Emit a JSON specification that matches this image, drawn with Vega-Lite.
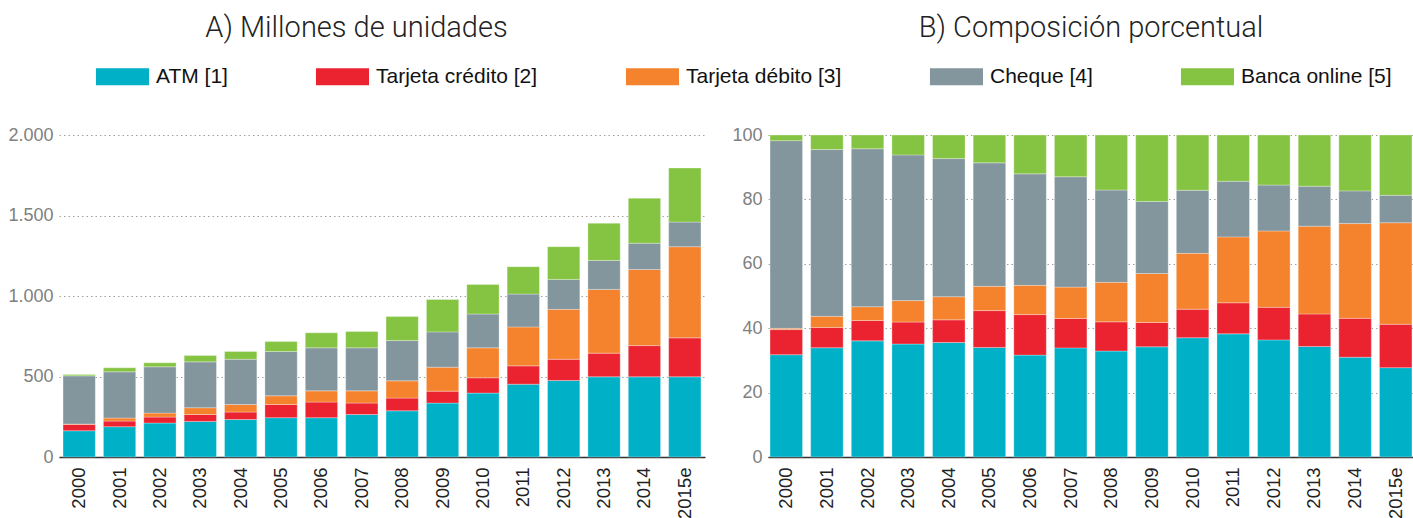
{
  "$schema": "https://vega.github.io/schema/vega-lite/v6.json",
  "padding": {"left": 7, "top": 14, "right": 0, "bottom": 0},
  "config": {
    "view": {"stroke": null},
    "font": "Liberation Sans",
    "axisY": {"grid": true, "gridDash": [1.5, 3], "gridColor": "#a0a0a0", "gridWidth": 1, "domain": false, "ticks": false, "labelColor": "#808080", "labelFontSize": 18, "labelPadding": 6, "title": null},
    "axisX": {"labelAngle": -90, "labelColor": "#222222", "labelFontSize": 18.5, "ticks": false, "domainColor": "#333333", "domainWidth": 1.5, "labelPadding": 10, "title": null, "grid": false},
    "title": {"font": "Roboto", "fontWeight": 300, "fontSize": 29, "color": "#222222", "anchor": "middle"},
    "legend": {"labelFont": "Liberation Sans", "labelFontSize": 21, "labelColor": "#111111"}
  },
  "data": {"values": [
    {"year":"2000","cat":"ATM [1]","k":1,"value":163},{"year":"2000","cat":"Tarjeta crédito [2]","k":2,"value":40},{"year":"2000","cat":"Tarjeta débito [3]","k":3,"value":2},{"year":"2000","cat":"Cheque [4]","k":4,"value":299},{"year":"2000","cat":"Banca online [5]","k":5,"value":9},
    {"year":"2001","cat":"ATM [1]","k":1,"value":188},{"year":"2001","cat":"Tarjeta crédito [2]","k":2,"value":35},{"year":"2001","cat":"Tarjeta débito [3]","k":3,"value":19},{"year":"2001","cat":"Cheque [4]","k":4,"value":287},{"year":"2001","cat":"Banca online [5]","k":5,"value":25},
    {"year":"2002","cat":"ATM [1]","k":1,"value":211},{"year":"2002","cat":"Tarjeta crédito [2]","k":2,"value":37},{"year":"2002","cat":"Tarjeta débito [3]","k":3,"value":25},{"year":"2002","cat":"Cheque [4]","k":4,"value":287},{"year":"2002","cat":"Banca online [5]","k":5,"value":25},
    {"year":"2003","cat":"ATM [1]","k":1,"value":221},{"year":"2003","cat":"Tarjeta crédito [2]","k":2,"value":43},{"year":"2003","cat":"Tarjeta débito [3]","k":3,"value":42},{"year":"2003","cat":"Cheque [4]","k":4,"value":285},{"year":"2003","cat":"Banca online [5]","k":5,"value":39},
    {"year":"2004","cat":"ATM [1]","k":1,"value":233},{"year":"2004","cat":"Tarjeta crédito [2]","k":2,"value":46},{"year":"2004","cat":"Tarjeta débito [3]","k":3,"value":47},{"year":"2004","cat":"Cheque [4]","k":4,"value":281},{"year":"2004","cat":"Banca online [5]","k":5,"value":48},
    {"year":"2005","cat":"ATM [1]","k":1,"value":244},{"year":"2005","cat":"Tarjeta crédito [2]","k":2,"value":82},{"year":"2005","cat":"Tarjeta débito [3]","k":3,"value":54},{"year":"2005","cat":"Cheque [4]","k":4,"value":275},{"year":"2005","cat":"Banca online [5]","k":5,"value":62},
    {"year":"2006","cat":"ATM [1]","k":1,"value":244},{"year":"2006","cat":"Tarjeta crédito [2]","k":2,"value":97},{"year":"2006","cat":"Tarjeta débito [3]","k":3,"value":70},{"year":"2006","cat":"Cheque [4]","k":4,"value":267},{"year":"2006","cat":"Banca online [5]","k":5,"value":93},
    {"year":"2007","cat":"ATM [1]","k":1,"value":264},{"year":"2007","cat":"Tarjeta crédito [2]","k":2,"value":71},{"year":"2007","cat":"Tarjeta débito [3]","k":3,"value":76},{"year":"2007","cat":"Cheque [4]","k":4,"value":267},{"year":"2007","cat":"Banca online [5]","k":5,"value":101},
    {"year":"2008","cat":"ATM [1]","k":1,"value":287},{"year":"2008","cat":"Tarjeta crédito [2]","k":2,"value":79},{"year":"2008","cat":"Tarjeta débito [3]","k":3,"value":107},{"year":"2008","cat":"Cheque [4]","k":4,"value":250},{"year":"2008","cat":"Banca online [5]","k":5,"value":149},
    {"year":"2009","cat":"ATM [1]","k":1,"value":335},{"year":"2009","cat":"Tarjeta crédito [2]","k":2,"value":74},{"year":"2009","cat":"Tarjeta débito [3]","k":3,"value":149},{"year":"2009","cat":"Cheque [4]","k":4,"value":219},{"year":"2009","cat":"Banca online [5]","k":5,"value":202},
    {"year":"2010","cat":"ATM [1]","k":1,"value":397},{"year":"2010","cat":"Tarjeta crédito [2]","k":2,"value":95},{"year":"2010","cat":"Tarjeta débito [3]","k":3,"value":186},{"year":"2010","cat":"Cheque [4]","k":4,"value":210},{"year":"2010","cat":"Banca online [5]","k":5,"value":184},
    {"year":"2011","cat":"ATM [1]","k":1,"value":452},{"year":"2011","cat":"Tarjeta crédito [2]","k":2,"value":114},{"year":"2011","cat":"Tarjeta débito [3]","k":3,"value":242},{"year":"2011","cat":"Cheque [4]","k":4,"value":204},{"year":"2011","cat":"Banca online [5]","k":5,"value":170},
    {"year":"2012","cat":"ATM [1]","k":1,"value":475},{"year":"2012","cat":"Tarjeta crédito [2]","k":2,"value":132},{"year":"2012","cat":"Tarjeta débito [3]","k":3,"value":310},{"year":"2012","cat":"Cheque [4]","k":4,"value":186},{"year":"2012","cat":"Banca online [5]","k":5,"value":203},
    {"year":"2013","cat":"ATM [1]","k":1,"value":498},{"year":"2013","cat":"Tarjeta crédito [2]","k":2,"value":147},{"year":"2013","cat":"Tarjeta débito [3]","k":3,"value":396},{"year":"2013","cat":"Cheque [4]","k":4,"value":180},{"year":"2013","cat":"Banca online [5]","k":5,"value":231},
    {"year":"2014","cat":"ATM [1]","k":1,"value":498},{"year":"2014","cat":"Tarjeta crédito [2]","k":2,"value":194},{"year":"2014","cat":"Tarjeta débito [3]","k":3,"value":473},{"year":"2014","cat":"Cheque [4]","k":4,"value":163},{"year":"2014","cat":"Banca online [5]","k":5,"value":279},
    {"year":"2015e","cat":"ATM [1]","k":1,"value":498},{"year":"2015e","cat":"Tarjeta crédito [2]","k":2,"value":242},{"year":"2015e","cat":"Tarjeta débito [3]","k":3,"value":566},{"year":"2015e","cat":"Cheque [4]","k":4,"value":153},{"year":"2015e","cat":"Banca online [5]","k":5,"value":336}
  ]},
  "spacing": 26,
  "resolve": {"scale": {"y": "independent", "x": "independent", "color": "shared"}, "legend": {"color": "shared"}},
  "hconcat": [
    {
      "width": 646,
      "height": 322,
      "title": {"text": "A) Millones de unidades", "frame": "bounds", "offset": 83},
      "mark": {"type": "bar", "stroke": "#ffffff", "strokeWidth": 0.6, "strokeOpacity": 0.5},
      "encoding": {
        "x": {"field": "year", "type": "nominal", "scale": {"paddingInner": 0.2, "paddingOuter": 0.1}},
        "y": {"field": "value", "type": "quantitative", "stack": "zero", "scale": {"domain": [0, 2000], "nice": false}, "axis": {"values": [0, 500, 1000, 1500, 2000], "labelExpr": "replace(format(datum.value, ','), ',', '.')"}},
        "color": {"field": "cat", "type": "nominal",
          "scale": {"domain": ["ATM [1]", "Tarjeta crédito [2]", "Tarjeta débito [3]", "Cheque [4]", "Banca online [5]"], "range": ["#00b0c7", "#eb2330", "#f5822c", "#83959d", "#85c442"]},
          "sort": ["ATM [1]", "Tarjeta crédito [2]", "Tarjeta débito [3]", "Cheque [4]", "Banca online [5]"],
          "legend": {"title": null, "orient": "none", "legendX": 71, "legendY": -69, "direction": "horizontal", "columns": 5, "columnPadding": 87, "symbolType": "M-5.24,-1H1V1H-5.24Z", "symbolSize": 289, "symbolStrokeWidth": 0, "labelOffset": 5, "labelLimit": 400}},
        "order": {"field": "k", "type": "quantitative", "sort": "ascending"}
      }
    },
    {
      "width": 646,
      "height": 322,
      "title": {"text": "B) Composición porcentual", "frame": "group", "offset": 83},
      "mark": {"type": "bar", "stroke": "#ffffff", "strokeWidth": 0.6, "strokeOpacity": 0.5},
      "encoding": {
        "x": {"field": "year", "type": "nominal", "scale": {"paddingInner": 0.2, "paddingOuter": 0.05}},
        "y": {"field": "value", "type": "quantitative", "stack": "normalize", "scale": {"domain": [0, 1], "nice": false}, "axis": {"values": [0, 0.2, 0.4, 0.6, 0.8, 1], "labelExpr": "format(datum.value * 100, 'd')"}},
        "color": {"field": "cat", "type": "nominal",
          "scale": {"domain": ["ATM [1]", "Tarjeta crédito [2]", "Tarjeta débito [3]", "Cheque [4]", "Banca online [5]"], "range": ["#00b0c7", "#eb2330", "#f5822c", "#83959d", "#85c442"]},
          "sort": ["ATM [1]", "Tarjeta crédito [2]", "Tarjeta débito [3]", "Cheque [4]", "Banca online [5]"],
          "legend": {"title": null, "orient": "none", "legendX": 71, "legendY": -69, "direction": "horizontal", "columns": 5, "columnPadding": 87, "symbolType": "M-5.24,-1H1V1H-5.24Z", "symbolSize": 289, "symbolStrokeWidth": 0, "labelOffset": 5, "labelLimit": 400}},
        "order": {"field": "k", "type": "quantitative", "sort": "ascending"}
      }
    }
  ]
}
